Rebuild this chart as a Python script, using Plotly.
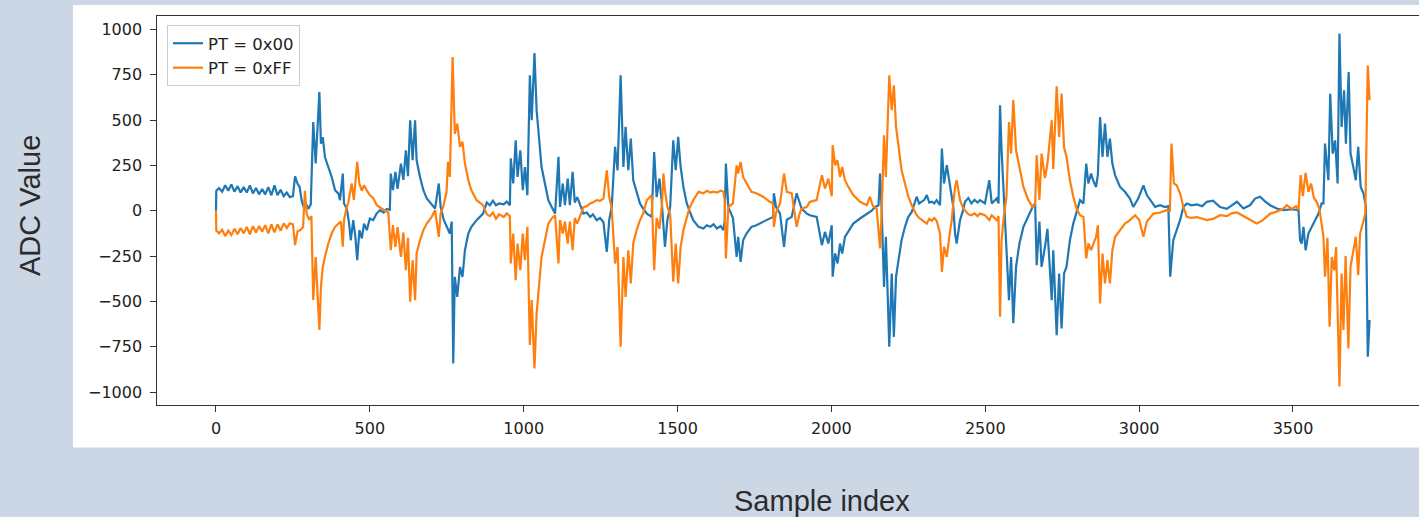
import plotly.graph_objects as go

# ---------------- data ----------------
blue_x = [0, 1, 10, 20, 30, 40, 50, 60, 70, 80, 90, 100, 110, 120, 130, 140, 150, 160, 170, 180, 190, 200, 210, 220, 230, 240, 250, 257, 265, 272, 278, 285, 292, 300, 308,
          316, 324, 336, 341, 347, 354, 365, 376, 387, 398, 403, 412, 416, 425, 432, 438, 446, 453, 459, 466, 474, 481, 490, 500, 511, 522, 533, 545, 555, 565, 568, 575, 583, 590, 601, 609, 617, 624, 631, 639, 647, 652, 663, 674, 685, 701, 712, 724, 730, 740, 749, 760, 766, 771, 776, 784, 793, 801, 809, 820, 830, 847, 868, 880, 890, 900, 910, 920, 935, 945, 955,
          958, 966, 974, 980, 989, 997, 1004, 1012, 1020, 1026, 1035, 1042, 1050, 1058, 1069, 1080, 1091, 1102, 1113, 1118, 1127, 1134, 1143, 1150, 1159, 1166, 1174, 1183, 1194, 1205, 1216, 1225, 1237, 1248, 1259, 1270, 1278, 1286, 1297, 1305, 1315, 1324, 1331, 1340, 1348, 1356, 1367, 1378, 1388, 1400, 1416, 1424, 1432, 1441, 1449, 1454, 1459, 1467, 1476, 1486, 1494, 1502, 1510, 1519, 1530, 1538, 1551, 1568, 1584, 1595, 1606, 1617, 1628, 1640, 1649, 1653, 1657, 1665, 1680, 1692, 1697, 1705, 1713, 1724, 1740, 1756, 1778, 1800, 1810, 1813, 1820, 1833, 1846, 1855, 1871, 1887, 1896, 1903, 1920, 1930, 1952,
          1969, 1979, 1990, 2001, 2004, 2012, 2020, 2028, 2035, 2044, 2055, 2071, 2093, 2115, 2131, 2142, 2153, 2158, 2163, 2171, 2177, 2188, 2196, 2203, 2210, 2218, 2228, 2239, 2250, 2261, 2277, 2285, 2294, 2302, 2310, 2318, 2326, 2334, 2342, 2353, 2359, 2366, 2375, 2383, 2391, 2396, 2402, 2407, 2418, 2429, 2434, 2445, 2455, 2465, 2475, 2483, 2499, 2513, 2521, 2537, 2543, 2548, 2553, 2561, 2569, 2577, 2584, 2591, 2600, 2611, 2624, 2640, 2654, 2662, 2667, 2676, 2683, 2694, 2702, 2716, 2721, 2732, 2740, 2748, 2756, 2764, 2775, 2786, 2797, 2808, 2819, 2828, 2835, 2844, 2850, 2860, 2866, 2873, 2881, 2889, 2897, 2905, 2913, 2922, 2938, 2954, 2970,
          2981, 2997, 3014, 3025, 3036, 3052, 3068, 3084, 3095, 3101, 3111, 3122, 3133, 3144, 3155, 3170, 3188, 3205, 3220, 3240, 3263, 3285, 3300, 3318, 3339, 3360, 3377, 3393, 3410, 3426, 3447, 3469, 3496, 3518, 3523, 3528, 3534, 3541, 3550, 3561, 3572, 3583, 3593, 3599, 3604, 3615, 3621, 3629, 3637, 3645, 3651, 3658, 3666, 3672, 3681, 3687, 3696, 3704, 3712, 3720, 3729, 3737, 3743, 3749]
blue_y = [0, 110, 125, 105, 140, 110, 145, 105, 135, 100, 130, 100, 140, 95, 125, 90, 120, 90, 130, 85, 140, 85, 115, 80, 100, 75, 80, 190, 150, 130, 60, 20, 40, 10, 35,
          489, 260, 655, 370, 406, 296, 241, 186, 113, 94, 58, 205, 40, 12, -63, -163, -52, -144, -273, -107, -153, -71, -107, -43, -52, -16, 3, -10, 10, 5, 205, 113, 214, 120, 260, 170, 333, 190, 499, 278, 499, 278, 186, 113, 67, 31, 12, 150, 22, -50, -89, -126, -60, -842, -365, -475, -310, -365, -218, -126, -89, -52, -16, 45, 30, 55, 30, 40, 35, 50, 30,
          289, 150, 388, 186, 333, 113, 241, 85, 747, 499, 870, 554, 388, 241, 150, 58, 21, -16, 297, 21, 150, 30, 177, 30, 214, 45, 75, 30, -16, -10, -34, -20, -52, -40, -62, -227, -50, 21, 352, 223, 747, 241, 462, 223, 398, 168, 96, 40, 12, -16, -34, 324, 75, 177, 40, -89, -199, -50, 21, 388, 223, 407, 241, 131, 40, 3, -52, -89, -98, -80, -89, -75, -98, -85, -107, -60, 260, 20, -40, -255, -144, -282, -163, -126, -89, -80, -62, -43, -34, 96, 20, -16, -199, -50, -34, 96, 40, 12, -16, -25, -34,
          -190, -117, -181, -80, -364, -236, -291, -181, -236, -144, -117, -71, -43, -16, 0, 21, 30, 205, 20, -420, -144, -750, -346, -696, -364, -273, -163, -89, -34, -7, 77, 40, 49, 60, 86, 45, 50, 40, 58, 30, 343, 150, 251, 150, 77, 21, -126, -181, -52, 10, 49, 70, 40, 60, 45, 58, 40, 168, 40, 67, 40, 581, 333, 58, -199, -493, -255, -621, -310, -181, -89, -25, 21, 40, -300, -60, -310, -199, -100, -493, -218, -686, -346, -649, -346, -310, -163, -71, 0, 58, 40, 260, 150, 205, 170, 131, 200, 517, 297, 480, 297, 398, 260, 195, 131, 104, 67,
          21, 67, 140, 86, 58, 21, 30, 20, 25, -364, -163, -107, -52, 21, 40, 30, 35, 25, 49, 55, 20, 10, 30, 49, 12, 30, 67, 77, 50, 30, 12, 3, 8, 3, -163, -181, -89, -218, -126, -89, -52, -16, 40, 40, 370, 168, 645, 315, 388, 150, 977, 462, 664, 370, 765, 315, 241, 168, 352, 131, 96, 21, -805, -603]

orange_x = [0, 1, 10, 20, 30, 40, 50, 60, 70, 80, 90, 100, 110, 120, 130, 140, 150, 160, 170, 180, 190, 200, 210, 220, 230, 240, 250, 257, 265, 275, 283, 289, 295, 303, 310,
            316, 324, 336, 341, 347, 354, 365, 376, 387, 398, 406, 412, 416, 425, 430, 441, 448, 459, 466, 474, 481, 490, 500, 511, 522, 538, 550, 560, 568, 575, 583, 590, 601, 609, 617, 624, 631, 639, 647, 652, 663, 674, 685, 701, 712, 724, 730, 738, 749, 754, 760, 769, 776, 784, 793, 801, 809, 820, 830, 847, 868, 880, 890, 900, 910, 920, 935, 945, 955,
            958, 966, 974, 980, 989, 997, 1004, 1012, 1020, 1026, 1035, 1042, 1050, 1058, 1069, 1080, 1091, 1102, 1113, 1118, 1127, 1134, 1143, 1150, 1159, 1166, 1174, 1183, 1194, 1205, 1216, 1225, 1237, 1248, 1259, 1270, 1278, 1286, 1297, 1305, 1315, 1324, 1331, 1340, 1348, 1356, 1367, 1378, 1388, 1400, 1416, 1424, 1432, 1441, 1449, 1454, 1459, 1467, 1476, 1486, 1494, 1502, 1510, 1519, 1530, 1538, 1551, 1568, 1584, 1595, 1606, 1617, 1628, 1640, 1649, 1653, 1657, 1665, 1680, 1692, 1697, 1705, 1713, 1724, 1740, 1756, 1778, 1800, 1810, 1813, 1820, 1833, 1846, 1855, 1871, 1887, 1896, 1903, 1920, 1930, 1952,
            1969, 1979, 1990, 2001, 2004, 2012, 2020, 2028, 2035, 2044, 2055, 2071, 2093, 2115, 2125, 2135, 2147, 2158, 2163, 2171, 2177, 2188, 2196, 2203, 2210, 2218, 2228, 2239, 2250, 2261, 2277, 2285, 2294, 2302, 2310, 2318, 2326, 2334, 2342, 2353, 2359, 2366, 2375, 2383, 2391, 2396, 2402, 2407, 2418, 2429, 2434, 2445, 2455, 2465, 2475, 2483, 2499, 2513, 2521, 2537, 2543, 2548, 2553, 2561, 2569, 2577, 2584, 2591, 2600, 2611, 2624, 2640, 2654, 2662, 2667, 2676, 2683, 2694, 2702, 2716, 2721, 2732, 2740, 2748, 2756, 2764, 2775, 2786, 2797, 2808, 2819, 2828, 2835, 2844, 2850, 2860, 2866, 2873, 2881, 2889, 2897, 2905, 2913, 2922, 2938, 2954, 2970,
            2987, 3000, 3014, 3025, 3036, 3047, 3068, 3090, 3100, 3105, 3113, 3122, 3133, 3144, 3155, 3170, 3188, 3205, 3220, 3240, 3263, 3285, 3300, 3318, 3339, 3361, 3382, 3400, 3426, 3447, 3469, 3480, 3496, 3510, 3518, 3525, 3532, 3541, 3550, 3559, 3568, 3577, 3586, 3599, 3604, 3612, 3619, 3626, 3634, 3640, 3651, 3658, 3664, 3671, 3680, 3687, 3696, 3704, 3712, 3718, 3727, 3735, 3743, 3749]
orange_y = [0, -110, -125, -105, -140, -110, -135, -100, -130, -95, -125, -90, -130, -85, -120, -85, -115, -80, -125, -75, -120, -75, -110, -70, -95, -70, -75, -190, -115, -105, -90, 110, -20, -50, -30,
            -493, -255, -658, -420, -310, -255, -181, -126, -89, -71, -60, -199, -52, 21, 45, 150, 60, 269, 150, 110, 140, 113, 85, 70, 31, 12, 0, -10, -218, -80, -199, -90, -255, -120, -328, -150, -502, -273, -493, -236, -163, -107, -71, -34, 3, -144, -16, 20, 100, 269, 186, 847, 425, 480, 352, 380, 260, 168, 113, 58, 31, -20, -30, -10, -45, -20, -35, -15, -30,
            -291, -126, -383, -181, -328, -126, -273, -89, -741, -493, -870, -566, -401, -255, -163, -71, -43, -25, -291, -52, -126, -60, -181, -60, -218, -40, -71, -34, 20, 25, 40, 45, 58, 55, 67, 223, 75, 12, -291, -200, -750, -255, -475, -218, -401, -181, -107, -52, -16, 58, 85, -328, -40, -100, 30, 205, 113, 20, -20, -392, -181, -401, -199, -107, -34, 12, 58, 104, 96, 110, 100, 105, 100, 110, 104, 60, -263, 20, 40, 250, 205, 269, 186, 150, 104, 96, 77, 49, 40, -89, -10, 40, 205, 104, 96, -89, -20, 10, 21, 49, 58,
            196, 122, 177, 80, 361, 251, 278, 186, 241, 168, 131, 86, 49, 30, 77, 25, 12, -208, -20, 416, 186, 747, 554, 692, 462, 352, 223, 150, 77, 30, -25, -40, -52, -60, -71, -45, -55, -40, -55, -126, -337, -199, -255, -144, -52, 40, 131, 168, 58, 10, 3, -20, -25, -15, -30, -16, -25, -52, -25, -52, -30, -585, -163, -20, 77, 489, 315, 612, 333, 241, 131, 58, 21, 30, 306, 60, 315, 180, 260, 499, 230, 686, 407, 646, 350, 297, 168, 77, 10, -25, -35, -263, -181, -218, -190, -144, -80, -511, -236, -401, -273, -401, -218, -144, -107, -71, -52,
            -25, -50, -144, -60, -40, -16, -10, 3, 0, 370, 150, 140, 96, 20, -34, -40, -35, -45, -52, -45, -25, -30, -15, -10, -30, -52, -71, -55, -16, -5, 12, 30, 10, 25, 5, 196, 80, 209, 104, 150, 70, 49, 10, -144, -364, -150, -640, -255, -328, -200, -970, -346, -658, -250, -760, -310, -218, -144, -355, -126, -71, -16, 801, 609]

series_names = ["PT = 0x00", "PT = 0xFF"]
series_colors = ["#1f77b4", "#ff7f0e"]
x_ticks = [0, 500, 1000, 1500, 2000, 2500, 3000, 3500]
y_ticks = [-1000, -750, -500, -250, 0, 250, 500, 750, 1000]

# ---------------- geometry (pixels) ----------------
W, H = 1419, 517
L, R, T, B = 157, 1419, 16, 405
pw, ph = R - L, B - T


def px(x):
    return (x - L) / pw


def py(y):
    return (B - y) / ph


fig = go.Figure()
fig.add_trace(go.Scatter(x=blue_x, y=blue_y, mode="lines", name=series_names[0],
                         line=dict(color=series_colors[0], width=2.2)))
fig.add_trace(go.Scatter(x=orange_x, y=orange_y, mode="lines", name=series_names[1],
                         line=dict(color=series_colors[1], width=2.2)))

tickfont = dict(family="DejaVu Sans", size=16, color="#222222")
fig.update_layout(
    width=W, height=H,
    margin=dict(l=L, r=W - R, t=T, b=H - B, autoexpand=False),
    paper_bgcolor="#cbd7e5",
    plot_bgcolor="white",
    showlegend=True,
    legend=dict(x=px(167), y=py(25), xanchor="left", yanchor="top",
                bgcolor="rgba(255,255,255,0.85)", bordercolor="#cccccc", borderwidth=1,
                font=dict(family="DejaVu Sans", size=16.5, color="#222222"),
                tracegroupgap=0),
    xaxis=dict(range=[-191.7, 3909.5], tickvals=x_ticks, showgrid=False, zeroline=False,
               showline=True, mirror=True, linecolor="#333333", linewidth=1.3,
               ticks="outside", ticklen=5.5, tickwidth=1.3, tickcolor="#333333",
               ticklabelstandoff=3, tickfont=tickfont),
    yaxis=dict(range=[-1071.5, 1073.7], tickvals=y_ticks, showgrid=False, zeroline=False,
               showline=True, mirror=False, linecolor="#333333", linewidth=1.3,
               ticks="outside", ticklen=5.5, tickwidth=1.3, tickcolor="#333333",
               ticklabelstandoff=5, tickfont=tickfont),
    shapes=[dict(type="rect", xref="paper", yref="paper", layer="below",
                 x0=px(73), x1=px(1425), y0=py(447.5), y1=py(5),
                 fillcolor="white", line=dict(width=0))],
    annotations=[
        dict(text="ADC Value", xref="paper", yref="paper", x=px(30), y=py(206),
             xanchor="center", yanchor="middle", textangle=-90, showarrow=False,
             font=dict(family="Liberation Sans", size=29, color="#2b2b2b")),
        dict(text="Sample index", xref="paper", yref="paper", x=px(822), y=py(501),
             xanchor="center", yanchor="middle", showarrow=False,
             font=dict(family="Liberation Sans", size=29, color="#2b2b2b")),
    ],
)

fig.write_html("out.html",
               config={"displayModeBar": False},
               post_script="document.body.style.margin='0';document.body.style.padding='0';"
                           "document.documentElement.style.overflow='hidden';")
